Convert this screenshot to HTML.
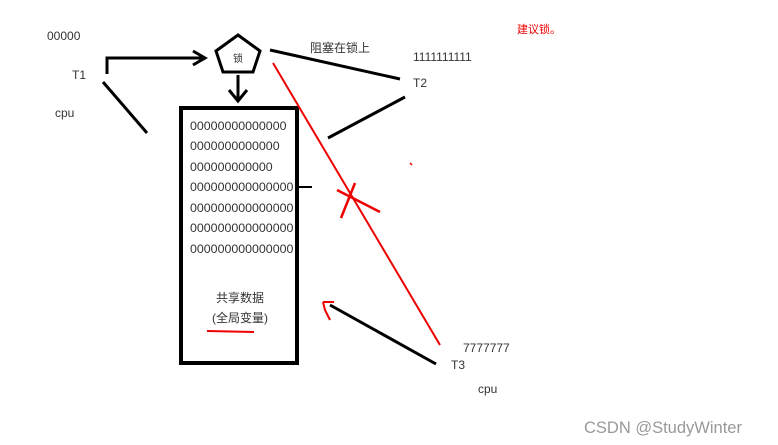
<!DOCTYPE html>
<html><head><meta charset="utf-8"><style>
body{margin:0;background:#fff;}
svg{display:block}
text{font-family:"Liberation Sans","Noto Sans CJK SC",sans-serif;fill:#333}
</style></head><body>
<svg width="778" height="445" viewBox="0 0 778 445" font-size="12">
<text x="47" y="40">00000</text>
<text x="72" y="79">T1</text>
<text x="55" y="117">cpu</text>
<polyline points="107,74 107,58 204,58" fill="none" stroke="#000" stroke-width="3"/>
<polyline points="193,51 205,58 193,65" fill="none" stroke="#000" stroke-width="3"/>
<polygon points="238,35 260,51 253,72 223,72 216,51" fill="#fff" stroke="#000" stroke-width="3"/>
<text x="238" y="62" text-anchor="middle" style="font-size:10px">锁</text>
<line x1="238" y1="75" x2="238" y2="100" stroke="#000" stroke-width="3"/>
<polyline points="229,90 238,101 247,90" fill="none" stroke="#000" stroke-width="3"/>
<rect x="181" y="108" width="116" height="255" fill="none" stroke="#000" stroke-width="4"/>
<g style="font-size:12.4px">
<text x="190" y="130">00000000000000</text>
<text x="190" y="150">0000000000000</text>
<text x="190" y="171">000000000000</text>
<text x="190" y="191">000000000000000</text>
<text x="190" y="212">000000000000000</text>
<text x="190" y="232">000000000000000</text>
<text x="190" y="253">000000000000000</text>
</g>
<line x1="297" y1="187" x2="312" y2="187" stroke="#000" stroke-width="2"/>
<text x="240" y="302" text-anchor="middle">共享数据</text>
<text x="240" y="322" text-anchor="middle">(全局变量)</text>
<line x1="207" y1="331" x2="254" y2="332" stroke="#e00" stroke-width="2"/>
<line x1="103" y1="82" x2="147" y2="133" stroke="#000" stroke-width="3"/>
<text x="310" y="52">阻塞在锁上</text>
<line x1="270" y1="50" x2="400" y2="79" stroke="#000" stroke-width="3"/>
<text x="413" y="61">1111111111</text>
<text x="413" y="87">T2</text>
<line x1="405" y1="97" x2="328" y2="138" stroke="#000" stroke-width="3"/>
<line x1="273" y1="63" x2="440" y2="345" stroke="#e00" stroke-width="2"/>
<line x1="337" y1="190" x2="380" y2="212" stroke="#e00" stroke-width="2.5"/>
<line x1="355" y1="183" x2="341" y2="218" stroke="#e00" stroke-width="2.5"/>
<line x1="410" y1="163" x2="412" y2="165" stroke="#e00" stroke-width="1.5"/>
<text x="517" y="33" style="fill:#e00;font-size:11px">建议锁。</text>
<line x1="436" y1="364" x2="330" y2="305" stroke="#000" stroke-width="3"/>
<line x1="323" y1="302" x2="334" y2="302" stroke="#e00" stroke-width="2"/>
<polyline points="323,302 325,310 330,320" fill="none" stroke="#e00" stroke-width="2"/>
<text x="463" y="352">7777777</text>
<text x="451" y="369">T3</text>
<text x="478" y="393">cpu</text>
<text x="584" y="433" style="fill:#999;font-size:16.5px">CSDN @StudyWinter</text>
</svg>
</body></html>
